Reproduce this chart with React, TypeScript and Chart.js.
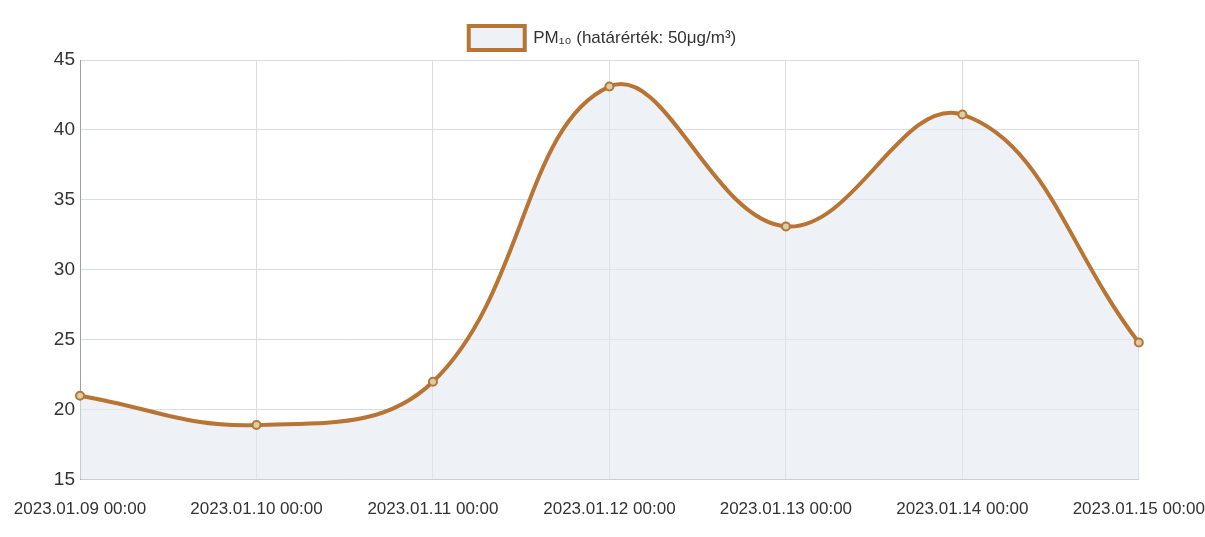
import React, { useEffect, useRef } from "react";
import { Chart, registerables } from "chart.js";

Chart.register(...registerables);

const categories = [
  "2023.01.09 00:00",
  "2023.01.10 00:00",
  "2023.01.11 00:00",
  "2023.01.12 00:00",
  "2023.01.13 00:00",
  "2023.01.14 00:00",
  "2023.01.15 00:00",
];
const pm10Values = [21.0, 18.9, 22.0, 43.1, 33.1, 41.1, 24.8];
const seriesLabel = "PM\u2081\u2080 (határérték: 50μg/m³)";
const yMin = 15;
const yMax = 45;
const yStep = 5;

const FONT = "'Liberation Sans', Arial, sans-serif";

export default function App() {
  const ref = useRef<HTMLCanvasElement | null>(null);

  useEffect(() => {
    document.body.style.margin = "0";
    const canvas = ref.current;
    if (!canvas) return;
    const chart = new Chart(canvas, {
      type: "line",
      data: {
        labels: categories,
        datasets: [
          {
            label: seriesLabel,
            data: pm10Values,
            borderColor: "#b87433",
            backgroundColor: "rgba(226,233,240,0.6)",
            borderWidth: 4,
            fill: true,
            tension: 0.4,
            pointRadius: 4,
            pointBorderWidth: 2,
            pointBackgroundColor: "#d8cfa8",
            pointBorderColor: "#b87433",
          },
        ],
      },
      options: {
        responsive: false,
        animation: false,
        layout: { padding: { left: 0, right: 0, top: 12, bottom: 17 } },
        plugins: {
          legend: {
            display: true,
            position: "top",
            labels: {
              boxWidth: 56,
              boxHeight: 24,
              color: "#333",
              font: { family: FONT, size: 17 },
              padding: 14,
            },
          },
          tooltip: { enabled: false },
        },
        scales: {
          x: {
            grid: {
              color: "#d9dde2",
              drawTicks: true,
              tickLength: 20,
              tickColor: "rgba(0,0,0,0)",
            },
            border: { color: "#c8ccd0" },
            ticks: {
              color: "#333",
              font: { family: FONT, size: 17 },
              maxRotation: 0,
              minRotation: 0,
              autoSkip: false,
              padding: 0,
            },
          },
          y: {
            min: yMin,
            max: yMax,
            grid: { color: "#d9dde2", drawTicks: false },
            border: { color: "#9aa0a6" },
            afterFit: (scale: any) => {
              scale.width = 80;
            },
            ticks: {
              stepSize: yStep,
              color: "#333",
              font: { family: FONT, size: 19 },
              padding: 5,
            },
          },
        },
      },
    });
    return () => chart.destroy();
  }, []);

  return (
    <div style={{ width: 1205, height: 537, background: "#fff" }}>
      <canvas ref={ref} width={1205} height={537} style={{ display: "block" }} />
    </div>
  );
}
